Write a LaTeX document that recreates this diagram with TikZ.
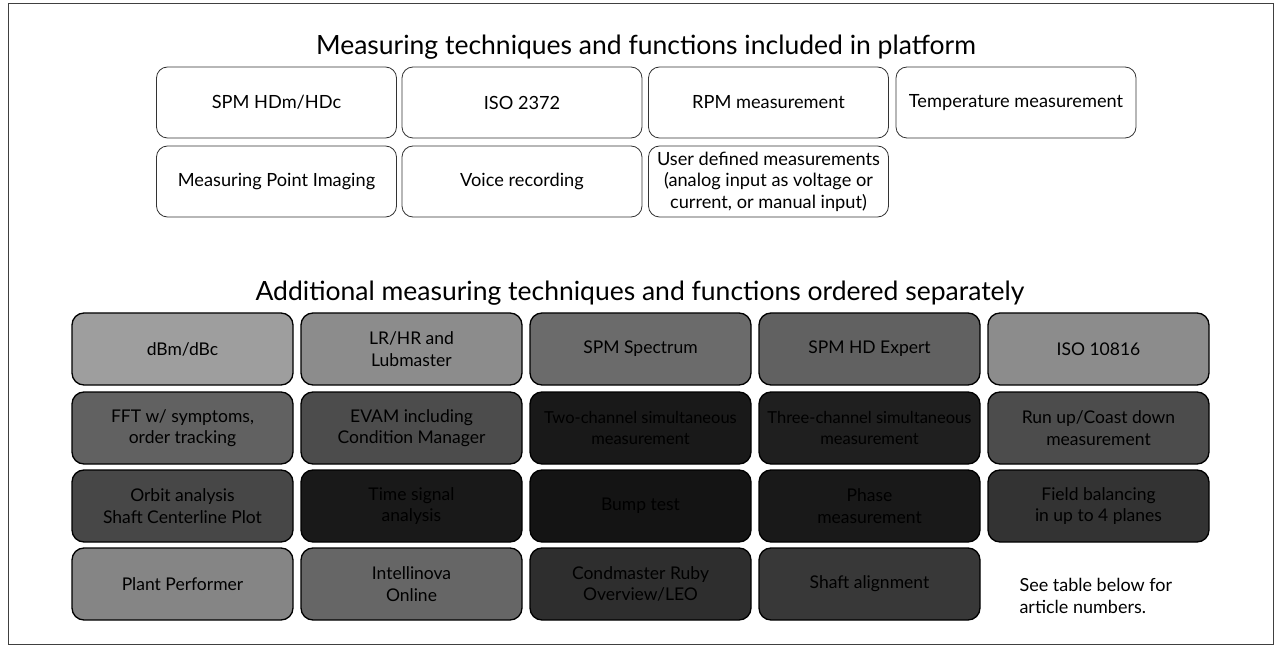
\documentclass[tikz,border=0pt]{standalone}
\usepackage{fontspec}
\setmainfont{Lato}
\begin{document}
\begin{tikzpicture}[x=1pt,y=-1pt,
  titletext/.style={font=\fontsize{26.5}{30}\selectfont, anchor=base},
  topbox/.style={rectangle, rounded corners=11pt, draw=black!80, line width=0.8pt,
    minimum width=240pt, minimum height=71pt, align=center, inner sep=2pt,
    font=\fontsize{18.2}{21.5}\selectfont},
  gbox/.style={rectangle, rounded corners=12pt, draw=black, line width=1.3pt,
    minimum width=221pt, minimum height=72pt, align=center, inner sep=2pt,
    font=\fontsize{17.5}{21.5}\selectfont, fill=#1, text=black},
  smalltext/.style={font=\fontsize{16.5}{21}\selectfont},
  notetext/.style={font=\fontsize{18}{22}\selectfont, align=left, anchor=west}
]
\useasboundingbox (0,0) rectangle (1278,647);
\draw[black!75, line width=1pt] (8,4) rectangle (1273,644);

% Included in platform
\node[titletext] (t1) at (646,55) {Measuring techniques and functions included in platform};
\node[topbox] (a1) at (276.5,102.5) {SPM HDm/HDc};
\node[topbox] (a2) at (522,102.5) {ISO 2372};
\node[topbox] (a3) at (768.5,102.5) {RPM measurement};
\node[topbox] (a4) at (1016,102.5) {Temperature measurement};
\node[topbox] (a5) at (276.5,181.5) {Measuring Point Imaging};
\node[topbox] (a6) at (522,181.5) {Voice recording};
\node[topbox] (a7) at (768.5,181.5) {User defined measurements\\(analog input as voltage or\\current, or manual input)};

% Ordered separately
\node[titletext] (t2) at (640,301) {Additional measuring techniques and functions ordered separately};

\node[gbox=black!38] (b11) at (182.5,349) {dBm/dBc};
\node[gbox=black!45] (b12) at (411.5,349) {LR/HR and\\Lubmaster};
\node[gbox=black!58] (b13) at (640.5,349) {SPM Spectrum};
\node[gbox=black!62] (b14) at (869.5,349) {SPM HD Expert};
\node[gbox=black!45] (b15) at (1098.5,349) {ISO 10816};

\node[gbox=black!62] (b21) at (182.5,428) {FFT w/ symptoms,\\order tracking};
\node[gbox=black!70] (b22) at (411.5,428) {EVAM including\\Condition Manager};
\node[gbox=black!90, smalltext] (b23) at (640.5,428) {Two-channel simultaneous\\measurement};
\node[gbox=black!88, smalltext] (b24) at (869.5,428) {Three-channel simultaneous\\measurement};
\node[gbox=black!70] (b25) at (1098.5,428) {Run up/Coast down\\measurement};

\node[gbox=black!72] (b31) at (182.5,506) {Orbit analysis\\Shaft Centerline Plot};
\node[gbox=black!90] (b32) at (411.5,506) {Time signal\\analysis};
\node[gbox=black!92] (b33) at (640.5,506) {Bump test};
\node[gbox=black!90] (b34) at (869.5,506) {Phase\\measurement};
\node[gbox=black!80] (b35) at (1098.5,506) {Field balancing\\in up to 4 planes};

\node[gbox=black!48] (b41) at (182.5,584) {Plant Performer};
\node[gbox=black!60] (b42) at (411.5,584) {Intellinova\\Online};
\node[gbox=black!82] (b43) at (640.5,584) {Condmaster Ruby\\Overview/LEO};
\node[gbox=black!78] (b44) at (869.5,584) {Shaft alignment};

\node[notetext] (note) at (1016,596) {See table below for\\article numbers.};
\end{tikzpicture}
\end{document}
